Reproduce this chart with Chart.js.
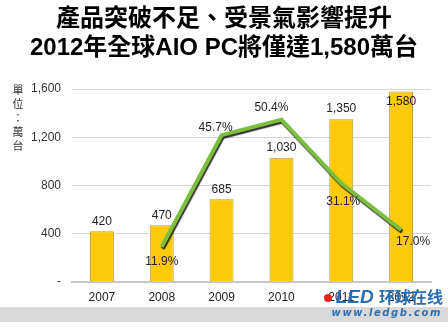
<!DOCTYPE html>
<html>
<head>
<meta charset="utf-8">
<script src="https://cdn.jsdelivr.net/npm/chart.js@4.4.1/dist/chart.umd.min.js"></script>
<style>
  body { margin: 0; background: #fff; }
  #wrap { position: relative; width: 448px; height: 327px; overflow: hidden; font-family: "Noto Sans CJK TC", "Liberation Sans", sans-serif; }
  #titulo { position: absolute; top: 3px; left: 0; width: 448px; text-align: center; font-weight: bold; font-size: 24px; line-height: 29px; color: #000; font-family: "Liberation Sans", "Noto Sans CJK TC", sans-serif; }
  #unidad { position: absolute; left: 11px; top: 82px; width: 14px; font-size: 11px; line-height: 14px; color: #333; text-align: center; }
  #banda { position: absolute; left: 0; top: 307px; width: 448px; height: 15px; background: #d9d9d9; }
  #web { position: absolute; right: 6px; top: 307px; font: italic bold 10px "DejaVu Sans", sans-serif; color: #2a6fb6; letter-spacing: 1.6px; }
  #logo { position: absolute; right: 5px; top: 284px; font: italic bold 19px "Liberation Sans", sans-serif; color: #2a6fb6; }
  #logo span { font: bold 16px "Noto Sans CJK SC", sans-serif; font-style: normal; }
  #punto { position: absolute; left: 324px; top: 294px; width: 8px; height: 8px; border-radius: 50%; background: #e8231b; }
  #grafica { position: absolute; left: 0; top: 0; }
</style>
</head>
<body>
<div id="wrap">
  <div id="banda"></div>
  <canvas id="grafica" width="448" height="327"></canvas>
  <div id="titulo">產品突破不足、受景氣影響提升<br>2012年全球AIO PC將僅達1,580萬台</div>
  <div id="unidad">單<br>位<br>：<br>萬<br>台</div>
  <div id="punto"></div>
  <div id="logo">LED <span>环球在线</span></div>
  <div id="web">www.ledgb.com</div>
</div>
<script>
const anios = ["2007", "2008", "2009", "2010", "2011", "2012"];
const envios = [420, 470, 685, 1030, 1350, 1580];
const crecimiento = [null, 11.9, 45.7, 50.4, 31.1, 17.0];
const ticksY = [0, 400, 800, 1200, 1600];

// posiciones de las etiquetas de porcentaje respecto al punto
const desplazPct = [null, [0, 15], [-6, -8], [-10, -12], [2, 18], [12, 12]];

const etiquetas = {
  id: "etiquetas",
  afterDatasetsDraw(chart) {
    const ctx = chart.ctx;
    ctx.save();
    ctx.font = "12px 'Liberation Sans', sans-serif";
    ctx.fillStyle = "#222";
    ctx.textAlign = "center";
    ctx.textBaseline = "middle";
    const barras = chart.getDatasetMeta(0).data;
    barras.forEach((b, i) => {
      const y = i === 5 ? b.y + 10 : b.y - 10;
      ctx.fillText(envios[i].toLocaleString("en-US"), b.x, y);
    });
    const puntos = chart.getDatasetMeta(1).data;
    puntos.forEach((p, i) => {
      if (crecimiento[i] === null) return;
      const d = desplazPct[i];
      ctx.fillText(crecimiento[i].toFixed(1) + "%", p.x + d[0], p.y + d[1]);
    });
    ctx.restore();
  }
};

const sombra = {
  id: "sombra",
  beforeDatasetDraw(chart, args) {
    if (args.index !== 1) return;
    chart.ctx.save();
    chart.ctx.shadowColor = "rgba(0,0,0,0.8)";
    chart.ctx.shadowOffsetX = 1;
    chart.ctx.shadowOffsetY = 2;
    chart.ctx.shadowBlur = 1;
  },
  afterDatasetDraw(chart, args) {
    if (args.index !== 1) return;
    chart.ctx.restore();
  }
};

new Chart(document.getElementById("grafica"), {
  data: {
    labels: anios,
    datasets: [{
      type: "bar",
      data: envios,
      backgroundColor: "#FFCA0A",
      borderColor: "#B9993A",
      borderWidth: 1,
      barPercentage: 0.4,
      categoryPercentage: 1,
      yAxisID: "y",
      order: 2
    }, {
      type: "line",
      data: crecimiento,
      borderColor: "#7CBF3E",
      borderWidth: 4,
      pointRadius: 0,
      tension: 0,
      spanGaps: false,
      yAxisID: "y2",
      order: 1
    }]
  },
  options: {
    responsive: false,
    animation: false,
    layout: { padding: { top: 89, right: 17, left: 0, bottom: 0 } },
    plugins: { legend: { display: false }, tooltip: { enabled: false } },
    scales: {
      x: {
        grid: { display: false, drawTicks: false },
        border: { color: "#c8c8c8", width: 2 },
        ticks: { color: "#222", font: { size: 12, family: "'Liberation Sans', sans-serif" }, padding: 8 },
        afterFit(s) { s.height = 45; }
      },
      y: {
        min: 0,
        max: 1600,
        afterBuildTicks(s) { s.ticks = ticksY.map(v => ({ value: v })); },
        grid: { color: "#d4d4d4", drawTicks: false },
        border: { display: false },
        ticks: {
          color: "#333",
          padding: 11,
          font: { size: 12, family: "'Liberation Sans', sans-serif" },
          callback: v => v === 0 ? "-" : v.toLocaleString("en-US")
        },
        afterFit(s) { s.width = 72; }
      },
      y2: {
        display: false,
        min: 1.2,
        max: 59.7
      }
    }
  },
  plugins: [sombra, etiquetas]
});
</script>
</body>
</html>
